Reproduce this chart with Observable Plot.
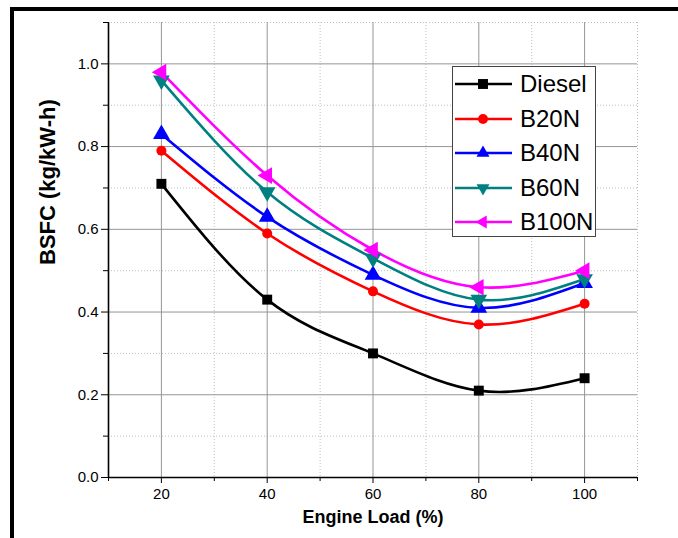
<!DOCTYPE html>
<html>
<head>
<meta charset="utf-8">
<script src="https://cdn.jsdelivr.net/npm/d3@7"></script>
<script src="https://cdn.jsdelivr.net/npm/@observablehq/plot@0.6"></script>
<style>
  html, body { margin: 0; padding: 0; background: #fff; }
  #wrap { position: relative; width: 678px; height: 538px; overflow: hidden; font-family: "Liberation Sans", Arial, sans-serif; }
  #chart { position: absolute; left: 0; top: 0; }
  #border { position: absolute; left: 10px; top: 7px; right: 0; bottom: 0; border-top: 4px solid #000; border-left: 4px solid #000; pointer-events: none; }
  #legend { position: absolute; left: 452px; top: 66px; width: 142px; height: 169px; border: 1px solid #444; background: #fff; }
  .row { position: absolute; left: 0; height: 34px; display: flex; align-items: center; }
  .row svg { display: block; }
  .row span { font-size: 24px; color: #000; margin-left: 6px; line-height: 1; }
</style>
</head>
<body>
<div id="wrap">
  <div id="chart"></div>
  <div id="legend"></div>
  <div id="border"></div>
</div>
<script>
// ---- data ----
const loads = [20, 40, 60, 80, 100];
const diesel = [0.71, 0.43, 0.30, 0.21, 0.24];
const b20n   = [0.79, 0.59, 0.45, 0.37, 0.42];
const b40n   = [0.83, 0.63, 0.49, 0.41, 0.47];
const b60n   = [0.96, 0.69, 0.53, 0.43, 0.48];
const b100n  = [0.98, 0.73, 0.55, 0.46, 0.50];
const seriesNames = ["Diesel", "B20N", "B40N", "B60N", "B100N"];
const xMajorTicks = [20, 40, 60, 80, 100];
const xMinorTicks = [10, 30, 50, 70, 90, 110];
const yMajorTicks = [0, 0.2, 0.4, 0.6, 0.8, 1.0];
const yMinorTicks = [0.1, 0.3, 0.5, 0.7, 0.9, 1.1];
const xLabel = "Engine Load (%)";
const yLabel = "BSFC (kg/kW-h)";

// ---- styles ----
const seriesValues = [diesel, b20n, b40n, b60n, b100n];
const colors = ["#000000", "#ff0000", "#0000ff", "#008080", "#ff00ff"];
const symbols = ["square", "circle", "triangle", "triangle", "triangle"];
const rotations = [0, 0, 0, 180, -90];
const radii = [5.6, 5, 6.2, 6.2, 6.2];

const series = seriesNames.map((name, i) => ({
  name, color: colors[i], symbol: symbols[i], rotate: rotations[i], r: radii[i],
  data: loads.map((x, j) => ({ x, y: seriesValues[i][j] }))
}));

const marks = [
  Plot.gridX(xMinorTicks, { stroke: "#c0c0c0", strokeOpacity: 1, strokeDasharray: "1,2" }),
  Plot.gridY(yMinorTicks, { stroke: "#c0c0c0", strokeOpacity: 1, strokeDasharray: "1,2" }),
  Plot.gridX(xMajorTicks, { stroke: "#959595", strokeOpacity: 1 }),
  Plot.gridY(yMajorTicks, { stroke: "#959595", strokeOpacity: 1 }),
];
for (const s of series) {
  marks.push(Plot.line(s.data, { x: "x", y: "y", stroke: s.color, strokeWidth: 2.6, curve: "natural" }));
}
for (const s of series) {
  marks.push(Plot.dot(s.data, { x: "x", y: "y", fill: s.color, stroke: "none", symbol: s.symbol, r: s.r, rotate: s.rotate }));
}
marks.push(
  Plot.axisX(xMajorTicks, { tickSize: 6, tickPadding: 5, fontSize: 15, label: null, tickFormat: d => String(d) }),
  Plot.axisX(xMinorTicks, { tickSize: 4, tickFormat: () => "", label: null }),
  Plot.axisY(yMajorTicks, { tickSize: 7, tickPadding: 3, fontSize: 15, label: null, tickFormat: d3.format(".1f") }),
  Plot.axisY(yMinorTicks, { tickSize: 5, tickFormat: () => "", label: null }),
  Plot.ruleY([0], { stroke: "#000", strokeWidth: 1.6 }),
  Plot.ruleX([10], { stroke: "#000", strokeWidth: 1.6 }),
  Plot.text([xLabel], { frameAnchor: "bottom", dy: 45, fontWeight: "bold", fontSize: 18 }),
  Plot.text([yLabel], { frameAnchor: "left", dx: -61, dy: 15, rotate: -90, fontWeight: "bold", fontSize: 22 })
);

const chart = Plot.plot({
  width: 678,
  height: 538,
  marginLeft: 108,
  marginRight: 41,
  marginTop: 22,
  marginBottom: 61,
  style: { fontFamily: "'Liberation Sans', Arial, sans-serif", color: "#000", background: "transparent" },
  x: { domain: [10, 110] },
  y: { domain: [0, 1.1] },
  marks
});
document.getElementById("chart").appendChild(chart);

// ---- legend ----
const symMap = { square: d3.symbolSquare, circle: d3.symbolCircle, triangle: d3.symbolTriangle2 };
const legend = d3.select("#legend");
series.forEach((s, i) => {
  const row = legend.append("div").attr("class", "row").style("top", (i * 34.5) + "px");
  const svg = row.append("svg").attr("width", 61).attr("height", 34);
  svg.append("line").attr("x1", 2).attr("x2", 59).attr("y1", 17).attr("y2", 17)
    .attr("stroke", s.color).attr("stroke-width", 2.6);
  svg.append("path")
    .attr("d", d3.symbol(symMap[s.symbol], Math.PI * s.r * s.r)())
    .attr("transform", `translate(30,17) rotate(${s.rotate})`)
    .attr("fill", s.color);
  row.append("span").text(s.name);
});
</script>
</body>
</html>
